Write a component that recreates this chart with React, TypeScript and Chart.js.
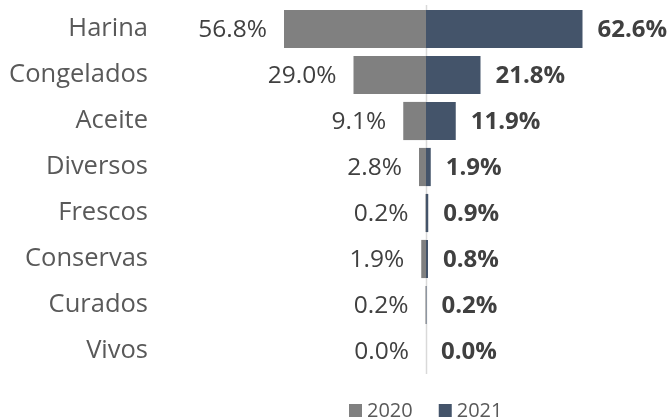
import { useEffect, useRef } from "react";
import { Chart, registerables } from "chart.js";

Chart.register(...registerables);

const categories = ["Harina", "Congelados", "Aceite", "Diversos", "Frescos", "Conservas", "Curados", "Vivos"];
const values2020 = [56.8, 29.0, 9.1, 2.8, 0.2, 1.9, 0.2, 0.0];
const values2021 = [62.6, 21.8, 11.9, 1.9, 0.9, 0.8, 0.2, 0.0];
const seriesNames = ["2020", "2021"];
const seriesColors = ["#808080", "#44546A"];

const FONT = "'Open Sans', 'Noto Sans', sans-serif";
const W = 670;
const H = 419;

const centerLinePlugin = {
  id: "centerLine",
  beforeDatasetsDraw(chart: any) {
    const { ctx, chartArea, scales } = chart;
    const x = Math.round(scales.x.getPixelForValue(0)) + 0.5;
    ctx.save();
    ctx.strokeStyle = "#d9d9d9";
    ctx.lineWidth = 1.5;
    ctx.beginPath();
    ctx.moveTo(x, chartArea.top - 1);
    ctx.lineTo(x, chartArea.bottom);
    ctx.stroke();
    ctx.restore();
  },
};

const valueLabelPlugin = {
  id: "valueLabels",
  afterDatasetsDraw(chart: any) {
    const ctx = chart.ctx;
    ctx.save();
    ctx.textBaseline = "middle";
    ctx.fillStyle = "#404040";
    chart.data.datasets.forEach((_ds: any, di: number) => {
      const meta = chart.getDatasetMeta(di);
      meta.data.forEach((el: any, i: number) => {
        const v = di === 0 ? values2020[i] : values2021[i];
        const text = v.toFixed(1) + "%";
        if (di === 0) {
          ctx.font = `400 24.5px ${FONT}`;
          ctx.textAlign = "right";
          ctx.fillText(text, Math.min(el.x, el.base) - 17, el.y + 1);
        } else {
          ctx.font = `700 24px ${FONT}`;
          ctx.textAlign = "left";
          ctx.fillText(text, Math.max(el.x, el.base) + 15, el.y + 1);
        }
      });
    });
    ctx.restore();
  },
};

const legendPlugin = {
  id: "customLegend",
  afterDraw(chart: any) {
    const { ctx, scales } = chart;
    const cx = scales.x.getPixelForValue(0);
    const y = 410.5;
    const box = 13;
    const gap = 5;
    const spacing = 26;
    ctx.save();
    ctx.font = `400 20px ${FONT}`;
    ctx.textBaseline = "middle";
    ctx.textAlign = "left";
    const widths = seriesNames.map((n) => box + gap + ctx.measureText(n).width);
    const total = widths[0] + spacing + widths[1];
    let x = Math.round(cx - total / 2);
    seriesNames.forEach((name, i) => {
      ctx.fillStyle = seriesColors[i];
      ctx.fillRect(x, Math.round(y - box / 2), box, box);
      ctx.fillStyle = "#595959";
      ctx.fillText(name, x + box + gap, y + 1);
      x += widths[i] + spacing;
    });
    ctx.restore();
  },
};

export default function App() {
  const ref = useRef<HTMLCanvasElement>(null);

  useEffect(() => {
    if (!ref.current) return;
    const chart = new Chart(ref.current, {
      type: "bar",
      data: {
        labels: categories,
        datasets: [
          {
            label: seriesNames[0],
            data: values2020.map((v) => -v),
            backgroundColor: seriesColors[0],
            borderWidth: 0,
            barPercentage: 0.83,
            categoryPercentage: 1,
          },
          {
            label: seriesNames[1],
            data: values2021,
            backgroundColor: seriesColors[1],
            borderWidth: 0,
            barPercentage: 0.83,
            categoryPercentage: 1,
          },
        ],
      },
      options: {
        indexAxis: "y",
        responsive: false,
        animation: false,
        layout: { padding: { top: 6, bottom: 45, left: 0, right: 0 } },
        plugins: {
          legend: { display: false },
          tooltip: { enabled: false },
        },
        scales: {
          x: {
            display: false,
            stacked: true,
            min: -106.4,
            max: 97.6,
          },
          y: {
            stacked: true,
            grid: { display: false, drawTicks: false },
            border: { display: false },
            ticks: {
              color: "#595959",
              padding: 12,
              font: { family: FONT, size: 25.5 },
            },
            afterFit: (scale: any) => {
              scale.width = 160;
              scale.paddingTop = 0;
              scale.paddingBottom = 0;
            },
          },
        },
      },
      plugins: [centerLinePlugin, valueLabelPlugin, legendPlugin],
    } as any);
    return () => chart.destroy();
  }, []);

  return (
    <div style={{ position: "fixed", left: 0, top: 0, width: W, height: H, background: "#fff" }}>
      <canvas ref={ref} width={W} height={H} style={{ width: W, height: H, display: "block" }} />
    </div>
  );
}
